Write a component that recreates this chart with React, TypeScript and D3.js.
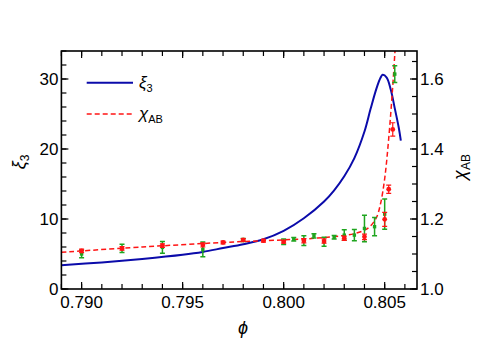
import React from "react";
import * as d3 from "d3";

// Blue curve xi_3 (left axis)
const xiPhi = [0.789, 0.791, 0.793, 0.795, 0.796, 0.797, 0.798, 0.799, 0.8, 0.801, 0.802, 0.8025, 0.803, 0.8035, 0.804, 0.8043, 0.8046, 0.8048, 0.8049, 0.8051, 0.8053, 0.8055, 0.8057, 0.8058];
const xiVal = [3.4, 3.8, 4.3, 4.9, 5.3, 5.85, 6.4, 7.1, 8.3, 10.1, 12.5, 14.1, 16.1, 18.7, 22.5, 25.7, 28.7, 30.2, 30.6, 30.2, 28.5, 25.8, 23.0, 21.2];

// Red dashed fit chi_AB (right axis)
const chiFitPhi = [0.789, 0.793, 0.797, 0.799, 0.801, 0.802, 0.803, 0.8035, 0.804, 0.8043, 0.8046, 0.8048, 0.805, 0.8052, 0.8054, 0.8055, 0.8056];
const chiFitVal = [1.105, 1.12, 1.133, 1.138, 1.143, 1.147, 1.153, 1.158, 1.168, 1.18, 1.205, 1.245, 1.315, 1.43, 1.58, 1.67, 1.76];

// Red data points
const redPhi = [0.79, 0.792, 0.794, 0.796, 0.797, 0.798, 0.799, 0.8, 0.801, 0.802, 0.803, 0.804, 0.805, 0.8052, 0.8054];
const redVal = [1.109, 1.116, 1.124, 1.126, 1.133, 1.14, 1.138, 1.135, 1.138, 1.137, 1.145, 1.149, 1.199, 1.285, 1.456];
const redErr = [0.005, 0.005, 0.005, 0.006, 0.004, 0.004, 0.004, 0.004, 0.006, 0.006, 0.006, 0.008, 0.02, 0.012, 0.019];

// Green data points
const greenPhi = [0.79, 0.792, 0.794, 0.796, 0.798, 0.8, 0.8005, 0.801, 0.8015, 0.802, 0.8025, 0.803, 0.8035, 0.804, 0.8045, 0.805, 0.8055];
const greenVal = [1.1, 1.116, 1.119, 1.113, 1.14, 1.135, 1.142, 1.138, 1.152, 1.135, 1.148, 1.154, 1.154, 1.173, 1.178, 1.214, 1.614];
const greenErr = [0.011, 0.012, 0.017, 0.021, 0.004, 0.008, 0.005, 0.014, 0.006, 0.013, 0.005, 0.015, 0.016, 0.038, 0.026, 0.043, 0.024];

const xMajor = [0.79, 0.795, 0.8, 0.805];
const xMajorLabels = ["0.790", "0.795", "0.800", "0.805"];
const yLMajor = [0, 10, 20, 30];
const yRMajor = [1.0, 1.2, 1.4, 1.6];
const yRLabels = ["1.0", "1.2", "1.4", "1.6"];

const W = 485, H = 354;
const L = 61.4, R = 417, T = 51, B = 289;

export default function App() {
  const x = d3.scaleLinear().domain([0.789, 0.8066]).range([L, R]);
  const yL = d3.scaleLinear().domain([0, 34]).range([B, T]);
  const yR = d3.scaleLinear().domain([1.0, 1.68]).range([B, T]);

  const xiLine = d3.line<number>().x((_, i) => x(xiPhi[i])).y((d) => yL(d)).curve(d3.curveCatmullRom.alpha(0.5));
  const chiLine = d3.line<number>().x((_, i) => x(chiFitPhi[i])).y((d) => yR(d)).curve(d3.curveCatmullRom.alpha(0.5));

  const xMinor = d3.range(0, 18).map((i) => 0.789 + i * 0.001);
  const yLMinor = d3.range(0, 35, 2);
  const yRMinor = d3.range(0, 14).map((i) => 1.0 + i * 0.05);

  const font = "'Liberation Sans', Arial, Helvetica, sans-serif";
  const green = "#1fa51f";
  const red = "#ff1414";
  const blue = "#0b0baa";

  return (
    <svg width={W} height={H} style={{ position: "absolute", left: 0, top: 0, background: "#fff" }} fontFamily={font}>
      <defs>
        <clipPath id="plotclip">
          <rect x={L} y={T} width={R - L} height={B - T} />
        </clipPath>
      </defs>
      <g stroke="#000" strokeWidth={1.2}>
        {xMinor.map((v, i) => (
          <g key={"xm" + i}>
            <line x1={x(v)} x2={x(v)} y1={B} y2={B - 5} />
            <line x1={x(v)} x2={x(v)} y1={T} y2={T + 5} />
          </g>
        ))}
        {xMajor.map((v, i) => (
          <g key={"xM" + i}>
            <line x1={x(v)} x2={x(v)} y1={B} y2={B - 7} />
            <line x1={x(v)} x2={x(v)} y1={T} y2={T + 7} />
          </g>
        ))}
        {yLMinor.map((v, i) => (
          <line key={"ylm" + i} x1={L} x2={L + 5} y1={yL(v)} y2={yL(v)} />
        ))}
        {yLMajor.map((v, i) => (
          <line key={"ylM" + i} x1={L} x2={L + 7} y1={yL(v)} y2={yL(v)} />
        ))}
        {yRMinor.map((v, i) => (
          <line key={"yrm" + i} x1={R} x2={R - 5} y1={yR(v)} y2={yR(v)} />
        ))}
        {yRMajor.map((v, i) => (
          <line key={"yrM" + i} x1={R} x2={R - 7} y1={yR(v)} y2={yR(v)} />
        ))}
      </g>

      <g clipPath="url(#plotclip)">
        <path d={xiLine(xiVal) || ""} fill="none" stroke={blue} strokeWidth={2} />
        <path d={chiLine(chiFitVal) || ""} fill="none" stroke={red} strokeWidth={1.5} strokeDasharray="5,3" />
        {greenPhi.map((p, i) => {
          const cx = x(p);
          const y0 = yR(greenVal[i] - greenErr[i]);
          const y1 = yR(greenVal[i] + greenErr[i]);
          return (
            <g key={"g" + i} stroke={green} strokeWidth={1.5}>
              <line x1={cx} x2={cx} y1={y0} y2={y1} />
              <line x1={cx - 2.5} x2={cx + 2.5} y1={y0} y2={y0} />
              <line x1={cx - 2.5} x2={cx + 2.5} y1={y1} y2={y1} />
              <rect x={cx - 1.7} y={yR(greenVal[i]) - 1.7} width={3.4} height={3.4} fill={green} stroke="none" />
            </g>
          );
        })}
        {redPhi.map((p, i) => {
          const cx = x(p);
          const y0 = yR(redVal[i] - redErr[i]);
          const y1 = yR(redVal[i] + redErr[i]);
          return (
            <g key={"r" + i} stroke={red} strokeWidth={1.2}>
              <line x1={cx} x2={cx} y1={y0} y2={y1} />
              <line x1={cx - 2.5} x2={cx + 2.5} y1={y0} y2={y0} />
              <line x1={cx - 2.5} x2={cx + 2.5} y1={y1} y2={y1} />
              <circle cx={cx} cy={yR(redVal[i])} r={2.4} fill={red} stroke="none" />
            </g>
          );
        })}
      </g>

      <rect x={L} y={T} width={R - L} height={B - T} fill="none" stroke="#000" strokeWidth={1.6} />

      <g fontSize={17} fill="#000">
        {xMajor.map((v, i) => (
          <text key={"xl" + i} x={x(v)} y={308} textAnchor="middle">{xMajorLabels[i]}</text>
        ))}
        {yLMajor.map((v, i) => (
          <text key={"yll" + i} x={L - 3} y={yL(v) + 6} textAnchor="end">{v}</text>
        ))}
        {yRMajor.map((v, i) => (
          <text key={"yrl" + i} x={R + 3} y={yR(v) + 6} textAnchor="start">{yRLabels[i]}</text>
        ))}
      </g>

      <text x={243} y={334} fontSize={18} fontStyle="italic" textAnchor="middle">ϕ</text>
      <text transform="translate(25,162) rotate(-90)" fontSize={18} textAnchor="middle">
        <tspan fontStyle="italic">ξ</tspan>
        <tspan fontSize={12} dy={4}>3</tspan>
      </text>
      <text transform="translate(466,167) rotate(-90)" fontSize={18} textAnchor="middle">
        <tspan fontStyle="italic">χ</tspan>
        <tspan fontSize={12} dy={4}>AB</tspan>
      </text>

      <line x1={86.7} x2={133} y1={82.7} y2={82.7} stroke={blue} strokeWidth={2} />
      <text x={139} y={88} fontSize={17}>
        <tspan fontStyle="italic">ξ</tspan>
        <tspan fontSize={11} dy={4}>3</tspan>
      </text>
      <line x1={86.7} x2={133} y1={114} y2={114} stroke={red} strokeWidth={1.5} strokeDasharray="5,3" />
      <text x={139} y={119} fontSize={17}>
        <tspan fontStyle="italic">χ</tspan>
        <tspan fontSize={11} dy={4}>AB</tspan>
      </text>
    </svg>
  );
}
